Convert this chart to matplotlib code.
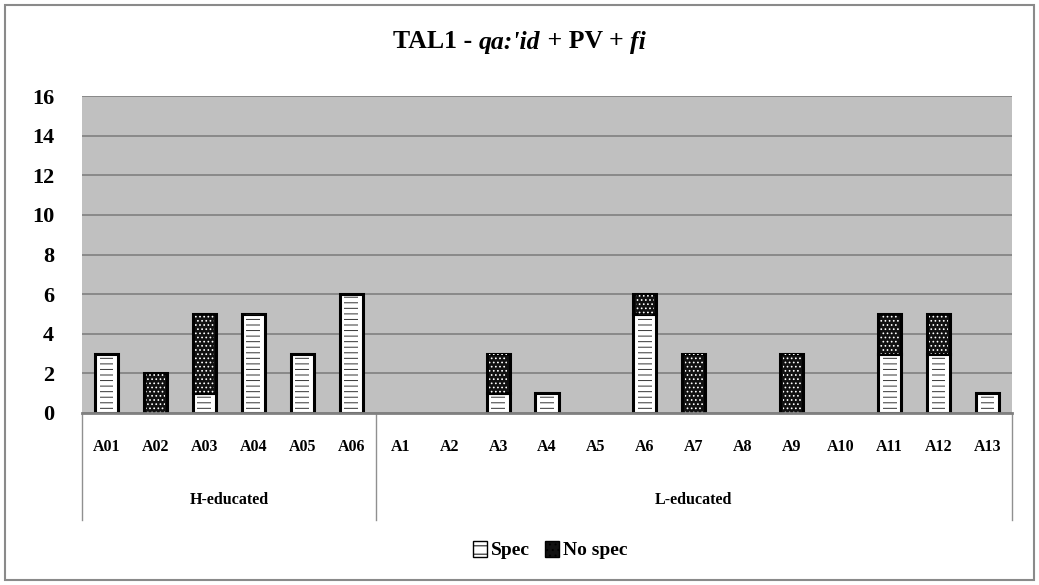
import matplotlib
matplotlib.use("Agg")
import matplotlib.pyplot as plt
from matplotlib.patches import Rectangle, Patch
from matplotlib.lines import Line2D
import numpy as np

categories = ["A01", "A02", "A03", "A04", "A05", "A06",
              "A1", "A2", "A3", "A4", "A5", "A6", "A7", "A8", "A9", "A10", "A11", "A12", "A13"]
groups = ["H-educated", "L-educated"]
group_sizes = [6, 13]
spec = [3, 0, 1, 5, 3, 6, 0, 0, 1, 1, 0, 5, 0, 0, 0, 0, 3, 3, 1]
no_spec = [0, 2, 4, 0, 0, 0, 0, 0, 2, 0, 0, 1, 3, 0, 3, 0, 2, 2, 0]
yticks = [0, 2, 4, 6, 8, 10, 12, 14, 16]

FONT = "Liberation Serif"
plt.rcParams['font.family'] = [FONT, 'DejaVu Serif']
plt.rcParams['hatch.linewidth'] = 0.7

W, H = 1039, 585
fig = plt.figure(figsize=(W / 100, H / 100), dpi=100)

# outer frame
fig.patches.append(Rectangle((5 / W, 5 / H), (W - 10) / W, (H - 10) / H, transform=fig.transFigure,
                             fill=False, edgecolor="#8a8a8a", linewidth=1.5))

left, right, top, bottom = 82, 1012, 96, 413
ax = fig.add_axes([left / W, 1 - bottom / H, (right - left) / W, (bottom - top) / H])
ax.set_facecolor("#C0C0C0")
x = np.arange(len(categories))
bw = 0.47

spec_a = np.array(spec)
nos_a = np.array(no_spec)
# Spec bars
for xi, s in zip(x, spec_a):
    if s > 0:
        ax.bar(xi, s, width=bw, color="white", edgecolor="black", linewidth=2.2, zorder=3)
        ax.bar(xi, s, width=bw * 0.6, color="none", edgecolor="#333333", linewidth=0,
               hatch="---", zorder=4)
# No spec bars: dark face with white dotted hatch
for xi, s, n in zip(x, spec_a, nos_a):
    if n > 0:
        ax.bar(xi, n, bottom=s, width=bw, color="#111111", edgecolor="black", linewidth=2.2, zorder=3)
        ax.bar(xi, n, bottom=s, width=bw * 0.8, color="none", edgecolor="white", linewidth=0,
               hatch="....", zorder=4)

ax.set_xlim(-0.5, len(categories) - 0.5)
ax.set_ylim(0, 16)
ax.set_yticks(yticks)
ax.set_yticklabels([str(t) for t in yticks], fontsize=16, fontweight="bold")
ax.tick_params(axis="y", length=0, pad=20)
ax.set_xticks([])
ax.grid(axis="y", color="#808080", linewidth=1.2, zorder=1)
ax.set_axisbelow(True)
for sp in ["top", "right", "left"]:
    ax.spines[sp].set_visible(False)
ax.spines["bottom"].set_color("#808080")
ax.spines["bottom"].set_linewidth(2)
ax.spines["bottom"].set_zorder(5)

trans = ax.get_xaxis_transform()
def fy(py):
    return 1 - py / H

for xi, c in zip(x, categories):
    ax.text(xi, -(447 - bottom) / (bottom - top), c, transform=trans, ha="center", va="center",
            fontsize=11.5, fontweight="bold")

# group separators and labels
bounds = [0]
for g in group_sizes:
    bounds.append(bounds[-1] + g)
yb1 = -(520 - bottom) / (bottom - top)
for b in bounds:
    ax.add_line(Line2D([b - 0.5, b - 0.5], [0, yb1], transform=trans, color="#909090",
                       linewidth=1, clip_on=False))
for i, gname in enumerate(groups):
    cx = (bounds[i] + bounds[i + 1] - 1) / 2
    ax.text(cx, -(500 - bottom) / (bottom - top), gname, transform=trans, ha="center", va="center",
            fontsize=11.5, fontweight="bold")

# legend
handles = [Patch(facecolor="white", edgecolor="black", hatch="--", label="Spec"),
           Patch(facecolor="#111111", edgecolor="black", hatch="...", label="No spec")]
fig.legend(handles=handles, loc="center", bbox_to_anchor=(550 / W, fy(550)), ncol=2, frameon=False,
           prop={"family": FONT, "weight": "bold", "size": 14}, handlelength=0.7, handleheight=0.9,
           handletextpad=0.2, columnspacing=0.8)

# title built from pieces (mixed upright/italic)
pieces = [("TAL1 - ", "normal"), ("qa:'id", "italic"), (" + PV + ", "normal"), ("fi", "italic")]
fig.canvas.draw()
renderer = fig.canvas.get_renderer()
texts = []
for s, style in pieces:
    t = fig.text(0, fy(42), s, fontsize=18.5, fontweight="bold", style=style, ha="left", va="center")
    texts.append(t)
widths = [t.get_window_extent(renderer).width for t in texts]
total = sum(widths)
xcur = (W - total) / 2 / W
for t, w in zip(texts, widths):
    t.set_x(xcur)
    xcur += w / W

fig.savefig("out.png", dpi=100)
